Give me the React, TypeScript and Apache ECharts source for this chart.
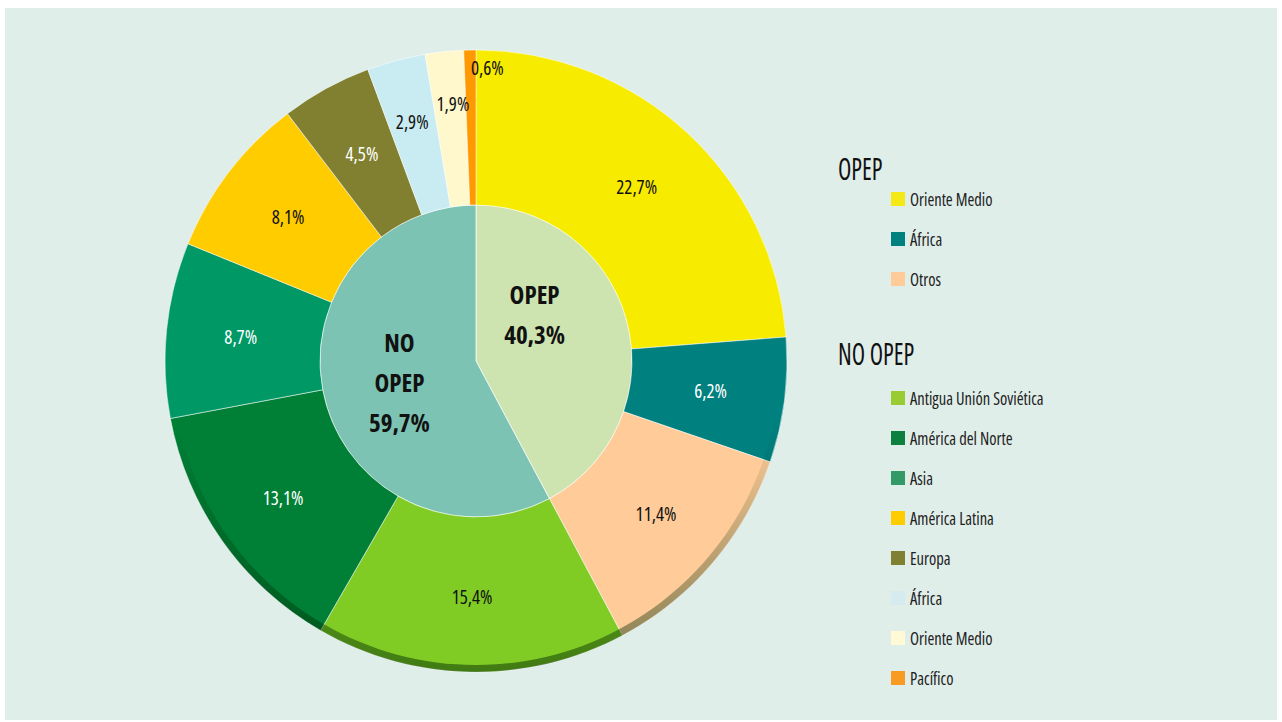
import React, { useEffect, useRef } from "react";
import * as echarts from "echarts";

const groupNames = ["OPEP", "NO OPEP"];
const groupLabels = ["40,3%", "59,7%"];
const opepRegions = ["Oriente Medio", "África", "Otros"];
const opepValues = [22.7, 6.2, 11.4];
const noOpepRegions = [
  "Antigua Unión Soviética",
  "América del Norte",
  "Asia",
  "América Latina",
  "Europa",
  "África",
  "Oriente Medio",
  "Pacífico",
];
const noOpepValues = [15.4, 13.1, 8.7, 8.1, 4.5, 2.9, 1.9, 0.6];

const opepColors = ["#F7EB00", "#00807F", "#FFCC99"];
const noOpepColors = ["#80CC25", "#008037", "#009966", "#FFCC00", "#808030", "#C9ECF2", "#FFF8CC", "#FF9900"];
const opepLegendColors = ["#F5E915", "#00807F", "#FFCC99"];
const noOpepLegendColors = ["#99CC33", "#0D8040", "#339966", "#FFCC00", "#808033", "#D5EBF0", "#FFF9D5", "#F99B22"];
const groupColors = ["#CDE4B0", "#7CC3B4"];

const FAMILY = "'Open Sans', 'Roboto', sans-serif";
const CX = 476;
const CY = 361;
const R_OUT = 311;
const R_IN = 156;

const fmt = (v: number) => v.toFixed(1).replace(".", ",") + "%";

export default function App() {
  const ref = useRef<HTMLDivElement>(null);
  useEffect(() => {
    if (!ref.current) return;
    const chart = echarts.init(ref.current, undefined, { renderer: "svg" });

    const outerValues = [...opepValues, ...noOpepValues];
    const outerColors = [...opepColors, ...noOpepColors];
    const outerNames = [...opepRegions.map((n) => "OPEP · " + n), ...noOpepRegions.map((n) => "NO OPEP · " + n)];
    const darkSlices = ["#00807F", "#008037", "#009966", "#808030"];
    // label nudges for the thin slices at the top (indices 8, 9, 10)
    const outerShift: Record<number, [number, number]> = { 8: [-3, -10], 9: [1, -22], 10: [16, -57] };
    const innerShift: Record<number, [number, number]> = { 0: [-20, -27], 1: [2, 1] };

    const outerData = outerValues.map((v, i) => ({
      name: outerNames[i],
      value: v,
      itemStyle: { color: outerColors[i] },
      label: {
        color: darkSlices.includes(outerColors[i]) ? "#ffffff" : "#111111",
        formatter: fmt(v),
      },
    }));

    const groupSums = [
      opepValues.reduce((a, b) => a + b, 0),
      noOpepValues.reduce((a, b) => a + b, 0),
    ];
    const innerData = groupNames.map((n, i) => ({
      name: n,
      value: groupSums[i],
      itemStyle: { color: groupColors[i] },
      label: {
        formatter: (i === 0 ? "OPEP" : "NO\nOPEP") + "\n" + groupLabels[i],
      },
    }));

    const legendGraphics: any[] = [];
    const addGroup = (title: string, titleY: number, names: string[], colors: string[], firstY: number) => {
      legendGraphics.push({
        type: "text",
        x: 838,
        y: titleY,
        scaleX: 0.79,
        style: { x: 0, y: 0, text: title, font: `31px ${FAMILY}`, fill: "#111111", verticalAlign: "middle" },
      });
      names.forEach((n, i) => {
        const y = firstY + i * 40;
        legendGraphics.push({
          type: "rect",
          shape: { x: 891, y: y - 7, width: 14, height: 14 },
          style: { fill: colors[i] },
        });
        legendGraphics.push({
          type: "text",
          x: 910,
          y: y,
          scaleX: 0.87,
          style: { x: 0, y: 0, text: n, font: `19px ${FAMILY}`, fill: "#222222", verticalAlign: "middle" },
        });
      });
    };
    addGroup("OPEP", 168, opepRegions, opepLegendColors, 199);
    addGroup("NO OPEP", 353, noOpepRegions, noOpepLegendColors, 398);

    legendGraphics.push({
      type: "ring",
      silent: true,
      z: 100,
      shape: { cx: CX, cy: CY, r: R_OUT, r0: R_OUT - 7 },
      style: {
        fill: new echarts.graphic.LinearGradient(0, 0, 0, 1, [
          { offset: 0, color: "rgba(0,40,0,0)" },
          { offset: 0.6, color: "rgba(0,40,0,0)" },
          { offset: 1, color: "rgba(0,40,0,0.5)" },
        ]),
      },
    });

    const shifted = (table: Record<number, [number, number]>) => (p: any) => {
      const s = table[p.dataIndex] || [0, 0];
      return { dx: s[0], dy: s[1], hideOverlap: false };
    };

    chart.setOption({
      animation: false,
      backgroundColor: "transparent",
      graphic: legendGraphics,
      series: [
        {
          type: "pie",
          center: [CX, CY],
          radius: [0, R_IN],
          startAngle: 90,
          clockwise: true,
          silent: true,
          avoidLabelOverlap: false,
          data: innerData,
          itemStyle: { borderColor: "rgba(255,255,255,0.7)", borderWidth: 1 },
          label: {
            show: true,
            position: "inside",
            fontFamily: FAMILY,
            fontSize: 25,
            fontWeight: "bold",
            lineHeight: 40,
            color: "#111111",
            align: "center",
          },
          labelLayout: shifted(innerShift),
          labelLine: { show: false },
          emphasis: { disabled: true },
        },
        {
          type: "pie",
          center: [CX, CY],
          radius: [R_IN, R_OUT],
          startAngle: 90,
          clockwise: true,
          silent: true,
          avoidLabelOverlap: false,
          data: outerData,
          itemStyle: {
            borderColor: "rgba(255,255,255,0.5)",
            borderWidth: 1,
          },
          label: {
            show: true,
            position: "inside",
            fontFamily: FAMILY,
            fontSize: 19,
          },
          labelLayout: shifted(outerShift),
          labelLine: { show: false },
          emphasis: { disabled: true },
        },
      ],
    });
    return () => chart.dispose();
  }, []);

  return (
    <div style={{ position: "fixed", left: 0, top: 0, width: 1282, height: 722, background: "#ffffff" }}>
      <style>{".chartbox svg text, .chartbox svg tspan { font-stretch: condensed !important; }"}</style>
      <div style={{ position: "absolute", left: 5, top: 8, width: 1272, height: 712, background: "#E0EEEA" }} />
      <div ref={ref} className="chartbox" style={{ position: "absolute", left: 0, top: 0, width: 1282, height: 722 }} />
    </div>
  );
}
